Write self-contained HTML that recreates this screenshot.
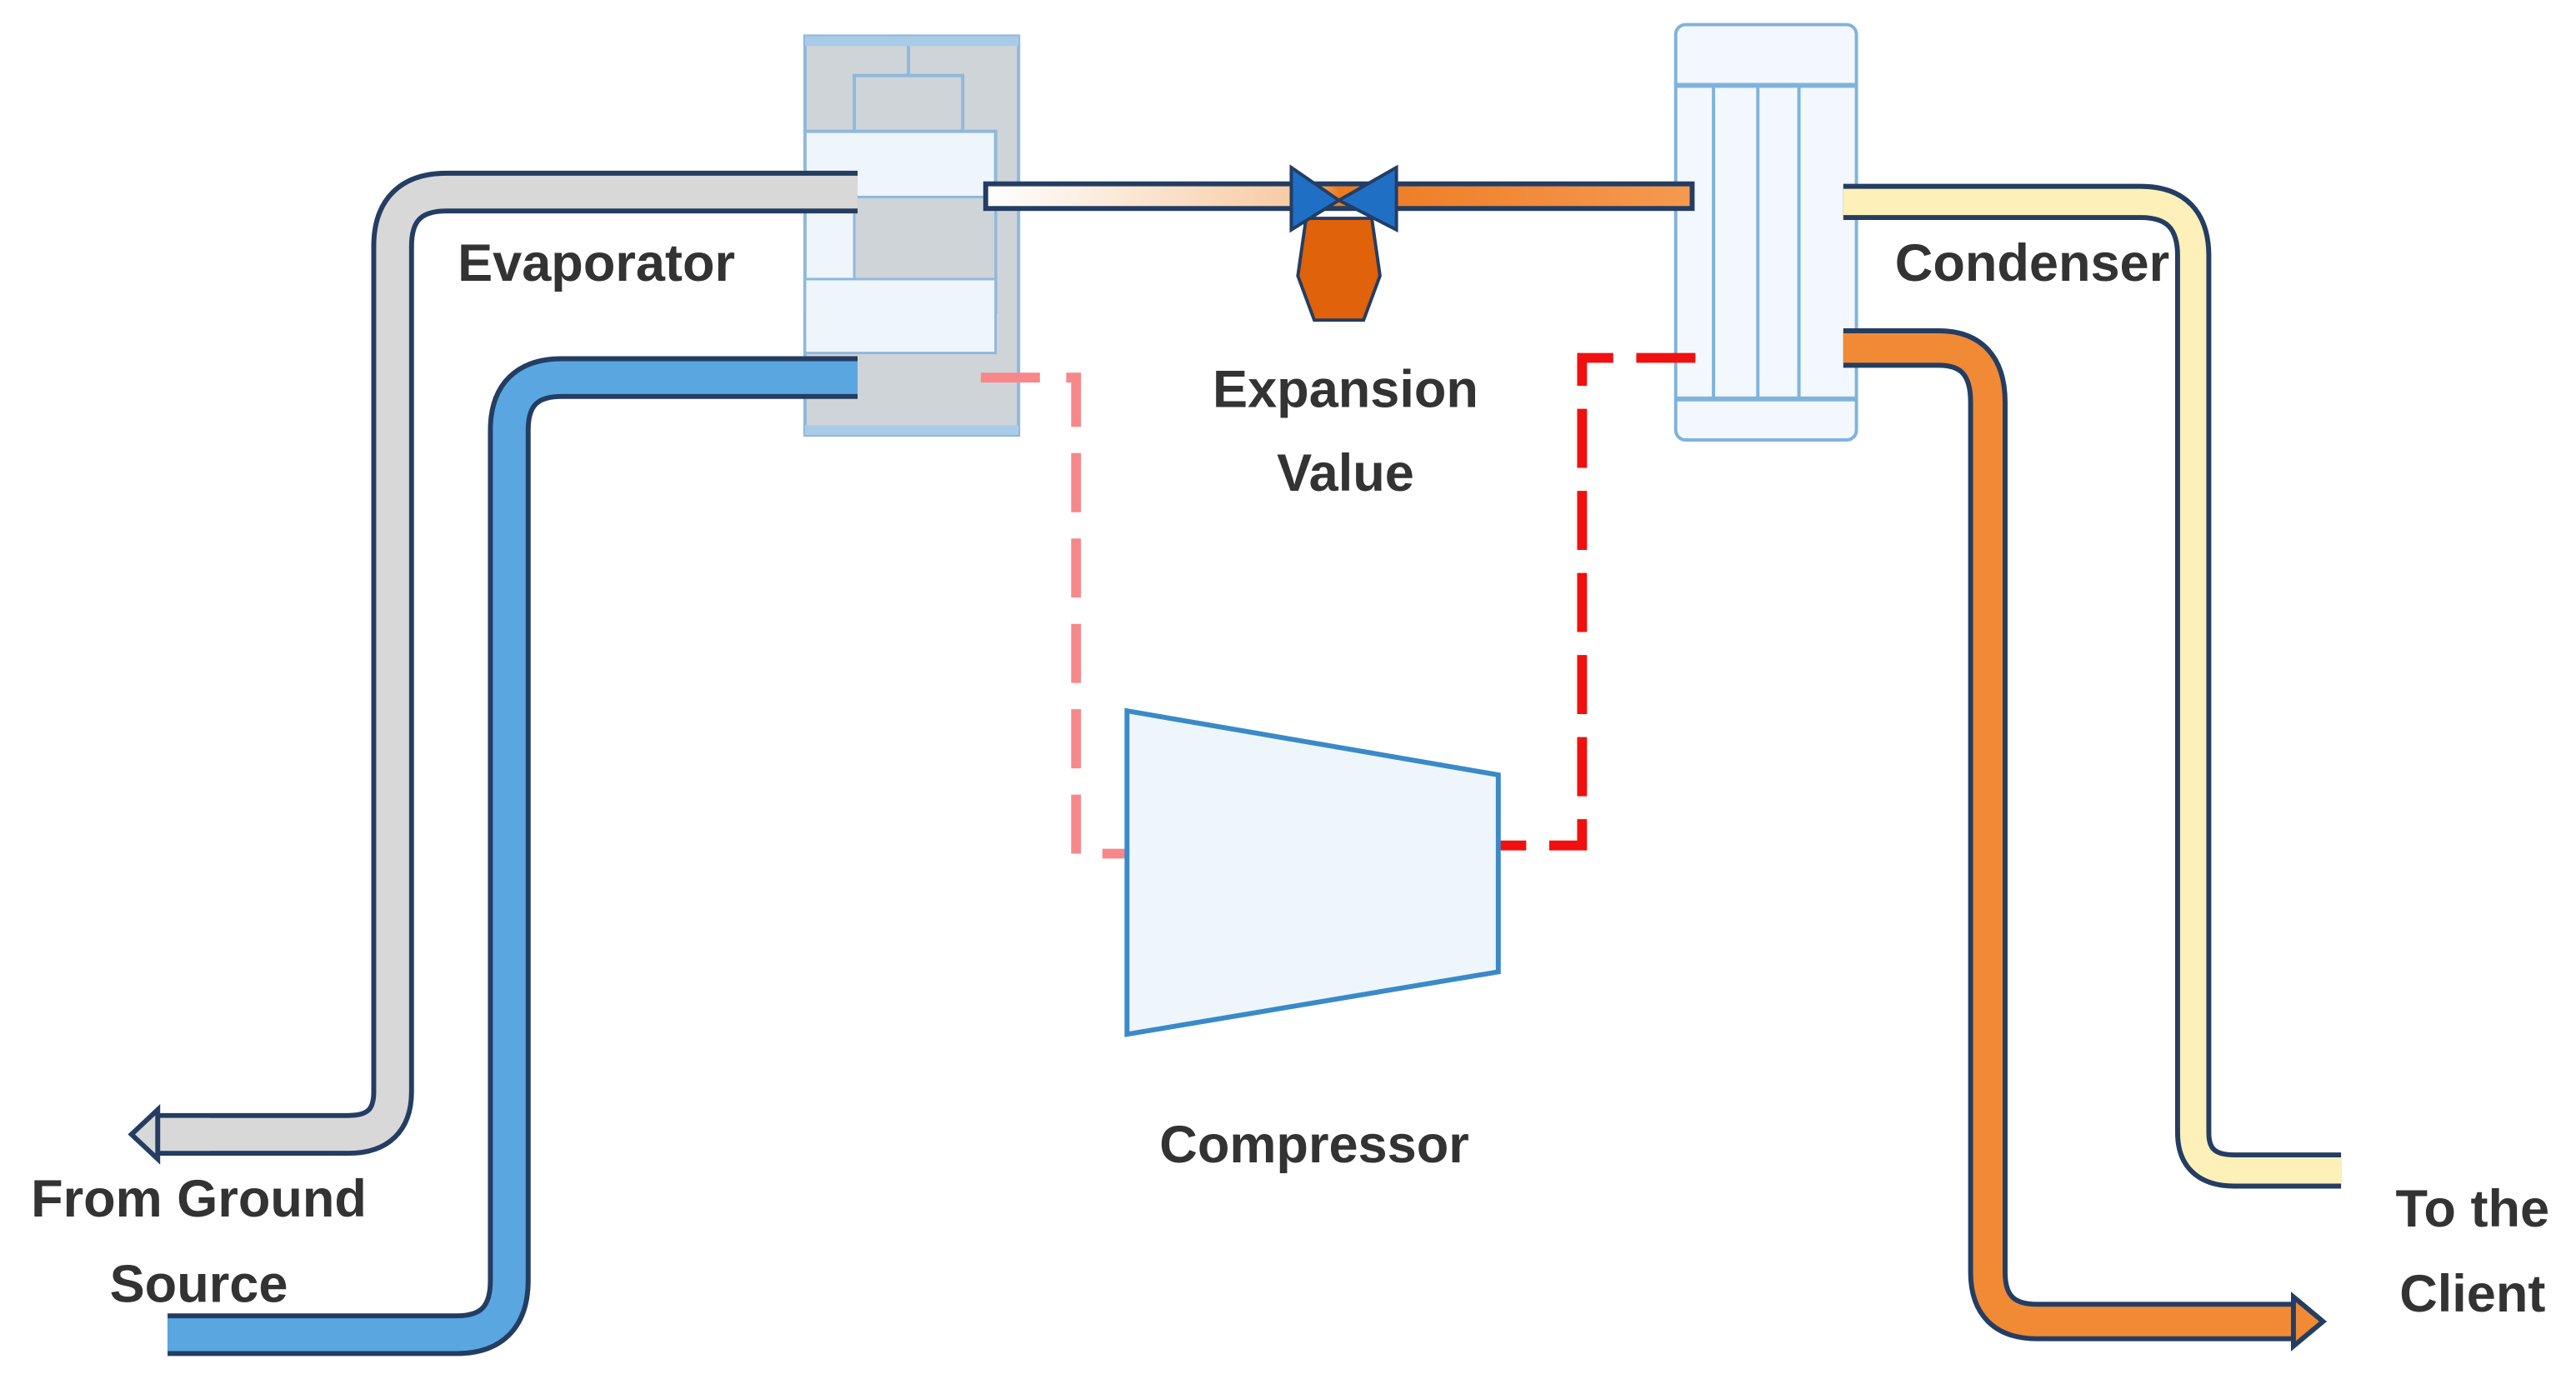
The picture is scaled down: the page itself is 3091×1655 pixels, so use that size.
<!DOCTYPE html>
<html><head><meta charset="utf-8"><style>
html,body{margin:0;padding:0;background:#fff;}
svg{display:block;}
text{font-family:"Liberation Sans","DejaVu Sans",sans-serif;font-weight:bold;fill:#333;text-anchor:middle;}
</style></head><body>
<svg width="3091" height="1655" viewBox="0 0 1568 840" preserveAspectRatio="none" xmlns="http://www.w3.org/2000/svg">
<defs>
<linearGradient id="ref" x1="0" x2="1"><stop offset="0" stop-color="#fff"/><stop offset="0.45" stop-color="#f8c9a0"/><stop offset="0.5" stop-color="#ee7a20"/><stop offset="1" stop-color="#f59a50"/></linearGradient>
</defs>
<!-- Evaporator -->
<rect x="490" y="22" width="130" height="243" fill="#cfd4d9" stroke="#8fb8dc" stroke-width="2"/>
<rect x="490" y="22" width="130" height="6" fill="#a9cbe8"/>
<rect x="490" y="259" width="130" height="6" fill="#a9cbe8"/>
<rect x="520" y="46" width="66" height="36" fill="#cfd4d9" stroke="#8fb8dc" stroke-width="2"/>
<line x1="553" y1="28" x2="553" y2="46" stroke="#8fb8dc" stroke-width="2"/>
<rect x="490" y="80" width="116" height="110" fill="#eef6fc" stroke="#8fb8dc" stroke-width="2"/>
<rect x="520" y="120" width="86" height="50" fill="#cfd4d9" stroke="#8fb8dc" stroke-width="1.5"/>
<rect x="490" y="170" width="116" height="45" fill="#eef6fc" stroke="#8fb8dc" stroke-width="1.5"/>
<!-- Condenser -->
<rect x="1020" y="15" width="110" height="253" rx="6" fill="#f2f8fd" stroke="#7fb3dc" stroke-width="2"/>
<line x1="1020" y1="52" x2="1130" y2="52" stroke="#7fb3dc" stroke-width="3"/>
<line x1="1020" y1="243" x2="1130" y2="243" stroke="#7fb3dc" stroke-width="3"/>
<g stroke="#7fb3dc" stroke-width="2"><line x1="1043" y1="52" x2="1043" y2="243"/><line x1="1070" y1="52" x2="1070" y2="243"/><line x1="1095" y1="52" x2="1095" y2="243"/></g>
<!-- Pipes -->
<g fill="none" stroke-linejoin="round">
<path d="M522,117 H272 Q239,117 239,150 V665 Q239,691 212,691 H92" stroke="#243d62" stroke-width="26"/>
<path d="M522,117 H272 Q239,117 239,150 V665 Q239,691 212,691 H92" stroke="#d8d8d8" stroke-width="20"/>
<path d="M522,230 H342 Q310,230 310,262 V780 Q310,813 278,813 H102" stroke="#243d62" stroke-width="26"/>
<path d="M522,230 H342 Q310,230 310,262 V780 Q310,813 278,813 H102" stroke="#5aa6e0" stroke-width="20"/>
<path d="M1122,123 H1303 Q1335,123 1335,156 V690 Q1335,713 1360,713 H1425" stroke="#243d62" stroke-width="22"/>
<path d="M1122,123 H1303 Q1335,123 1335,156 V690 Q1335,713 1360,713 H1425" stroke="#fdf0b8" stroke-width="16"/>
<path d="M1122,212 H1180 Q1210,212 1210,245 V775 Q1210,805 1240,805 H1398" stroke="#243d62" stroke-width="24"/>
<path d="M1122,212 H1180 Q1210,212 1210,245 V775 Q1210,805 1240,805 H1398" stroke="#f08a35" stroke-width="18"/>
</g>
<path d="M128,691 H92" stroke="#d8d8d8" stroke-width="20"/>
<polygon points="80,691 96,676 96,706" fill="#d8d8d8" stroke="#243d62" stroke-width="3"/>
<polygon points="1414,805 1396,790 1396,820" fill="#f08a35" stroke="#243d62" stroke-width="3"/>
<!-- refrigerant line -->
<rect x="600" y="112" width="430" height="15" fill="url(#ref)" stroke="#243d62" stroke-width="3"/>
<!-- valve -->
<polygon points="795,133 835,133 840,168 830,195 800,195 790,168" fill="#e0620a" stroke="#243d62" stroke-width="2"/>
<polygon points="786,102 815,122 786,140" fill="#1f6fc4" stroke="#243d62" stroke-width="2"/>
<polygon points="850,102 815,122 850,140" fill="#1f6fc4" stroke="#243d62" stroke-width="2"/>
<!-- dashed lines -->
<path d="M597,230 H655 V520 H697" fill="none" stroke="#f7888a" stroke-width="6" stroke-dasharray="36,16"/>
<path d="M1032,218 H963 V515 H893" fill="none" stroke="#f01010" stroke-width="6" stroke-dasharray="36,14"/>
<!-- compressor -->
<polygon points="686,433 912,472 912,592 686,630" fill="#eef6fc" stroke="#3a8ac8" stroke-width="3"/>
<!-- labels -->
<g font-size="32">
<text x="363" y="171">Evaporator</text>
<text x="1237" y="171">Condenser</text>
<text x="819" y="248">Expansion</text>
<text x="819" y="299">Value</text>
<text x="800" y="708">Compressor</text>
<text x="121" y="741">From Ground</text>
<text x="121" y="793">Source</text>
<text x="1505" y="747">To the</text>
<text x="1505" y="799">Client</text>
</g>
</svg>
</body></html>
